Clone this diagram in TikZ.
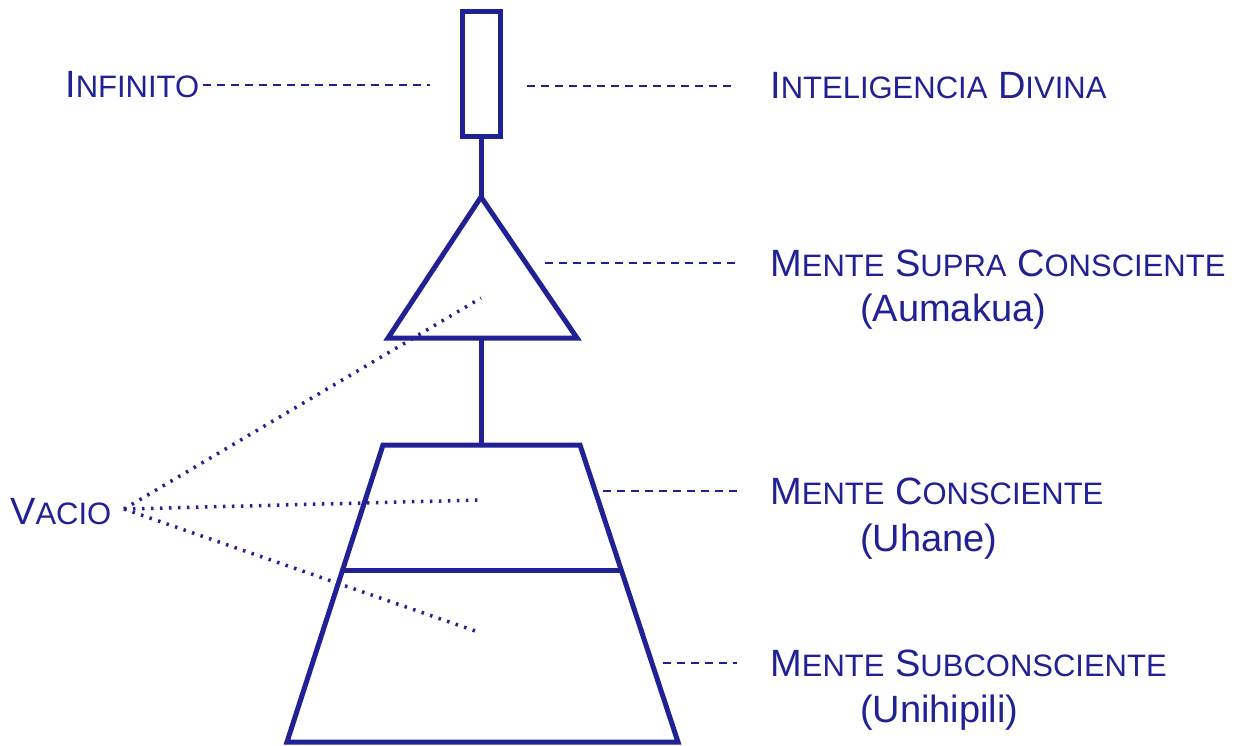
\documentclass[tikz,border=0pt]{standalone}
\usepackage{fontspec}
\setmainfont{Liberation Sans}
\definecolor{hb}{RGB}{33,33,150}
\newcommand{\capsm}[2]{{\fontsize{38}{44}\selectfont #1}{\fontsize{31}{37}\selectfont #2}}
\begin{document}
\begin{tikzpicture}[x=1pt,y=-1pt, line join=miter,
  shp/.style={draw=hb, line width=5pt},
  dashline/.style={draw=hb, line width=2pt, dash pattern=on 8pt off 6pt},
  dotline/.style={draw=hb, line width=3.5pt, dash pattern=on 2.5pt off 6.5pt},
  lbl/.style={text=hb, anchor=base west, inner sep=0pt, font=\fontsize{38}{44}\selectfont}]
\useasboundingbox (0,0) rectangle (1244,746);
% shapes
\draw[shp] (462,12) rectangle (500,137);
\coordinate (rb) at (481,137);
\coordinate (apex) at (481,197);
\coordinate (tb) at (481,338);
\coordinate (zt) at (481,445);
\draw[shp] (apex) -- (577,338) -- (388,338) -- cycle;
\draw[shp] (rb) -- (apex);
\draw[shp] (tb) -- (zt);
\draw[shp] (383,445) -- (580,445) -- (678,742) -- (287,742) -- cycle;
\draw[shp] (343,570) -- (621,570);
% labels
\node[lbl] (inf) at (65,98) {\capsm{I}{NFINITO}};
\node[lbl] (intel) at (770,99) {\capsm{I}{NTELIGENCIA} \capsm{D}{IVINA}};
\node[lbl] (supra) at (770,276) {\capsm{M}{ENTE} \capsm{S}{UPRA} \capsm{C}{ONSCIENTE}};
\node[lbl] (auma) at (860,321) {(Aumakua)};
\node[lbl] (cons) at (770,504) {\capsm{M}{ENTE} \capsm{C}{ONSCIENTE}};
\node[lbl] (uhane) at (860,551) {(Uhane)};
\node[lbl] (subc) at (770,676) {\capsm{M}{ENTE} \capsm{S}{UBCONSCIENTE}};
\node[lbl] (uni) at (860,722) {(Unihipili)};
\node[lbl] (vac) at (10,524) {\capsm{V}{ACIO}};
% dashed leaders
\coordinate (l1) at (430,84);
\coordinate (r1) at (527,84);
\coordinate (r2) at (545,265);
\coordinate (r3) at (603,493);
\coordinate (r4) at (663,665);
\draw[dashline] ([xshift=4pt]inf.east) -- (l1 |- inf.east);
\draw[dashline] (r1 |- intel.west) -- ([xshift=-35pt]intel.west);
\draw[dashline] (r2 |- supra.west) -- ([xshift=-33pt]supra.west);
\draw[dashline] (r3 |- cons.west) -- ([xshift=-33pt]cons.west);
\draw[dashline] (r4 |- subc.west) -- ([xshift=-33pt]subc.west);
% dotted rays
\coordinate (vo) at (124,509);
\coordinate (v1) at (481,298);
\coordinate (v2) at (481,500);
\coordinate (v3) at (481,633);
\draw[dotline] (vo) -- (v1);
\draw[dotline] (vo) -- (v2);
\draw[dotline] (vo) -- (v3);
\end{tikzpicture}
\end{document}
